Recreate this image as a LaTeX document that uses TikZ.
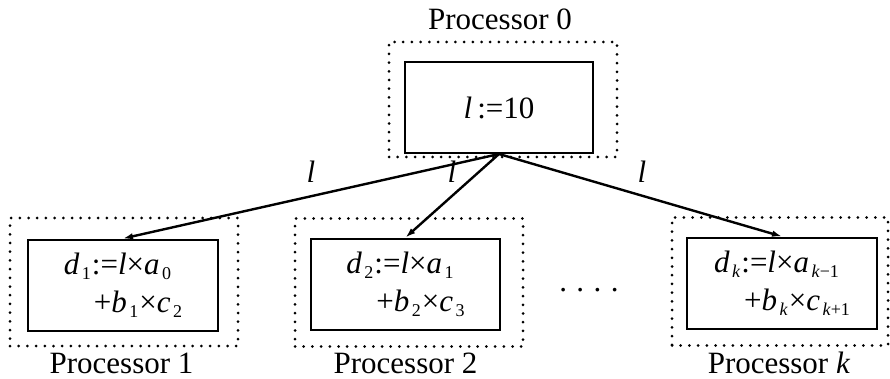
\documentclass[tikz,border=0pt]{standalone}
\usepackage{fontspec}
\setmainfont{Liberation Serif}
\usetikzlibrary{arrows.meta}
\newcommand\sbs[1]{\hspace{2.5pt}\raisebox{-5pt}{\fontsize{18}{18}\selectfont #1}\hspace{1pt}}
\begin{document}
\begin{tikzpicture}[x=1pt,y=-1pt,
  every node/.style={font=\fontsize{31}{38}\selectfont},
  inner/.style={draw,line width=2pt,minimum width=#1,minimum height=91pt,inner sep=0pt,align=left},
  outer/.style={draw,line width=3pt,dash pattern=on 0pt off 8.7pt,line cap=round,inner sep=0pt},
  plabel/.style={inner sep=0pt,anchor=base},
  conn/.style={line width=2.4pt,-{Latex[length=10pt,width=6.5pt]}},
  elabel/.style={inner sep=0pt,anchor=base,font=\fontsize{31}{38}\selectfont\itshape}]
\useasboundingbox (0,0) rectangle (890,379);
% outer dotted boxes
\node[outer,minimum width=228pt,minimum height=115pt] (o0) at (503,99.5) {};
\node[outer,minimum width=228pt,minimum height=128pt] (o1) at (124,282) {};
\node[outer,minimum width=228pt,minimum height=128pt] (o2) at (409,282.5) {};
\node[outer,minimum width=216pt,minimum height=128pt] (ok) at (780,281.5) {};
% inner boxes
\node[inner=188pt] (p0) at (499,107.5) {\textit{l}\,:=10};
\node[inner=190pt] (p1) at (123,285) {\textit{d}\sbs{1}:=\textit{l}×\textit{a}\sbs{0}\\\hspace*{30pt}+\textit{b}\sbs{1}×\textit{c}\sbs{2}};
\node[inner=189pt] (p2) at (405.5,284) {\textit{d}\sbs{2}:=\textit{l}×\textit{a}\sbs{1}\\\hspace*{30pt}+\textit{b}\sbs{2}×\textit{c}\sbs{3}};
\node[inner=190pt] (pk) at (782,283) {\textit{d}\sbs{\textit{k}}:=\textit{l}×\textit{a}\sbs{\textit{k}−1}\\\hspace*{30pt}+\textit{b}\sbs{\textit{k}}×\textit{c}\sbs{\textit{k}+1}};
% labels
\node[plabel] (l0) at (500,30) {Processor 0};
\node[plabel] (l1) at (121.5,373) {Processor 1};
\node[plabel] (l2) at (405.5,373) {Processor 2};
\node[plabel] (lk) at (779,373) {Processor \textit{k}};
% dots
\node[plabel] (dots) at (589,291) {.\hspace{9.5pt}.\hspace{9.5pt}.\hspace{9.5pt}.};
% connectors
\draw[conn] (p0.south) -- (p1.north);
\draw[conn] (p0.south) -- (p2.north);
\draw[conn] (p0.south) -- (pk.north);
\node[elabel] (e1) at (311,183) {l};
\node[elabel] (e2) at (452,183) {l};
\node[elabel] (ek) at (642,183) {l};
\end{tikzpicture}
\end{document}
